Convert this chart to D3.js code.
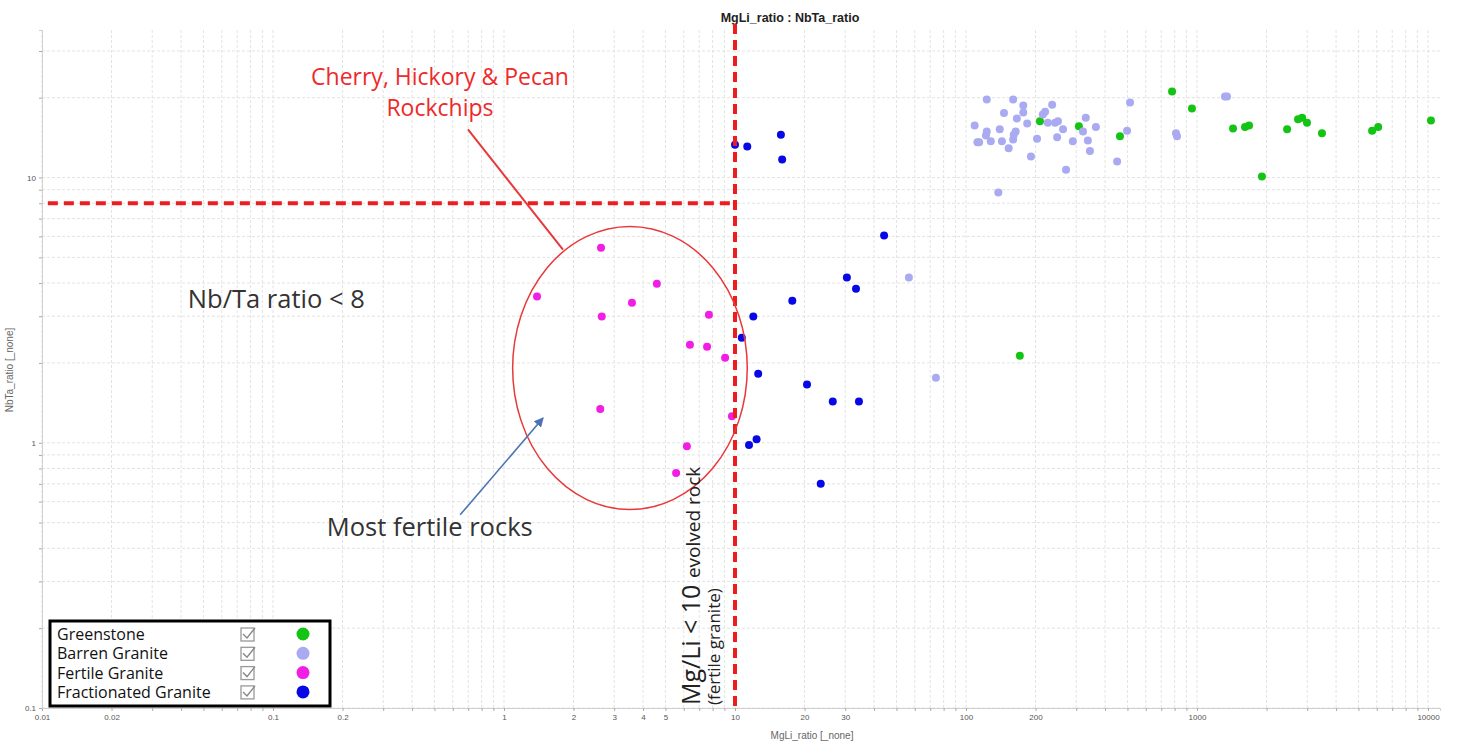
<!DOCTYPE html>
<html>
<head>
<meta charset="utf-8">
<script src="https://cdn.jsdelivr.net/npm/d3@7"></script>
<style>
  body { margin: 0; background: #fff; }
  svg { display: block; }
</style>
</head>
<body>
<div id="chart"></div>
<script>
// Values (MgLi_ratio, NbTa_ratio)
const greenstone = [
  [209, 16.3], [308, 15.6], [464, 14.3], [780, 21.1], [951, 18.2], [1432, 15.3],
  [1614, 15.5], [1680, 15.7], [2455, 15.2], [2737, 16.6], [2851, 16.8], [2993, 16.1],
  [3475, 14.7], [5728, 15.0], [6085, 15.5], [10300, 16.4], [1910, 10.1], [171, 2.13]
];
const barrenGranite = [
  [56.6, 4.2], [74.1, 1.76], [123, 19.7], [160, 19.7], [177, 18.7], [236, 18.8],
  [177, 17.6], [146, 17.5], [220, 17.7], [215, 17.3], [166, 16.7], [184, 16.0],
  [226, 16.1], [243, 16.1], [250, 16.3], [109, 15.7], [123, 14.9], [140, 15.2],
  [164, 14.9], [161, 14.5], [122, 14.4], [112, 13.6], [114, 13.6], [128, 13.7],
  [143, 13.7], [160, 13.9], [153, 12.9], [203, 14.0], [248, 14.2], [263, 15.2],
  [330, 16.8], [365, 15.5], [321, 14.9], [337, 13.8], [290, 13.7], [344, 12.6],
  [191, 12.0], [271, 10.7], [451, 11.5], [498, 15.0], [513, 19.2], [1349, 20.2],
  [1321, 20.2], [811, 14.7], [819, 14.3], [138, 8.78]
];
const fertileGranite = [
  [2.63, 5.44], [1.39, 3.56], [2.65, 2.99], [3.58, 3.37], [4.59, 3.98], [7.71, 3.04],
  [6.38, 2.34], [7.57, 2.30], [9.06, 2.09], [2.61, 1.34], [9.70, 1.26], [6.19, 0.97],
  [5.56, 0.77]
];
const fractionatedGranite = [
  [10.0, 13.3], [11.3, 13.1], [15.8, 14.5], [16.0, 11.7], [44.2, 6.04], [30.5, 4.2],
  [33.4, 3.81], [17.7, 3.43], [12.0, 2.99], [10.7, 2.49], [12.6, 1.82], [20.5, 1.66],
  [26.5, 1.43], [34.4, 1.43], [11.5, 0.98], [12.4, 1.03], [23.5, 0.70]
];

const seriesNames = ["Greenstone", "Barren Granite", "Fertile Granite", "Fractionated Granite"];
const seriesColors = ["#14c414", "#aaaaf2", "#f21ee6", "#0808e6"];
const seriesData = [greenstone, barrenGranite, fertileGranite, fractionatedGranite];

const xTickLabels = [0.01, 0.02, 0.1, 0.2, 1, 2, 3, 4, 5, 10, 20, 30, 100, 200, 1000, 10000];
const yTickLabels = [0.1, 1, 10];

const mgLiLimit = 10;
const nbTaLimit = 8;

const W = 1457, H = 744;
const margin = {top: 30, right: 17, bottom: 36, left: 42};

const svg = d3.select("#chart").append("svg")
  .attr("width", W).attr("height", H);

const x = d3.scaleLog().domain([0.01, 11270]).range([margin.left, W - margin.right]);
const y = d3.scaleLog().domain([0.1, 36]).range([H - margin.bottom, margin.top]);

// grid
const grid = svg.append("g");
grid.selectAll(".vg").data(x.ticks()).join("line")
  .attr("x1", d => x(d)).attr("x2", d => x(d))
  .attr("y1", y.range()[1]).attr("y2", y.range()[0])
  .attr("stroke", "#e3e3e3").attr("stroke-dasharray", "3,2");
grid.selectAll(".hg").data(y.ticks()).join("line")
  .attr("x1", x.range()[0]).attr("x2", x.range()[1])
  .attr("y1", d => y(d)).attr("y2", d => y(d))
  .attr("stroke", "#e3e3e3").attr("stroke-dasharray", "3,2");

// axes (small ticks, sparse labels)
const xAxis = svg.append("g")
  .attr("transform", `translate(0,${y.range()[0]})`)
  .call(d3.axisBottom(x).tickSize(3)
    .tickFormat(d => xTickLabels.includes(+d.toPrecision(6)) ? d3.format("~g")(d) : ""));
const yAxis = svg.append("g")
  .attr("transform", `translate(${x.range()[0]},0)`)
  .call(d3.axisLeft(y).tickSize(3)
    .tickFormat(d => yTickLabels.includes(+d.toPrecision(6)) ? d3.format("~g")(d) : ""));
[xAxis, yAxis].forEach(a => {
  a.select(".domain").attr("stroke", "#d0d0d0");
  a.selectAll(".tick line").attr("stroke", "#aaa");
  a.selectAll(".tick text").attr("fill", "#555").style("font", "8px 'Liberation Sans', Arial");
});

// title and axis names
svg.append("text")
  .attr("x", 790).attr("y", 22).attr("text-anchor", "middle")
  .style("font", "bold 12.5px 'Liberation Sans', Arial").attr("fill", "#222")
  .text("MgLi_ratio : NbTa_ratio");
svg.append("text")
  .attr("x", 812).attr("y", 739).attr("text-anchor", "middle")
  .style("font", "10px 'Liberation Sans', Arial").attr("fill", "#666")
  .text("MgLi_ratio [_none]");
svg.append("text")
  .attr("transform", "translate(13,370) rotate(-90)").attr("text-anchor", "middle")
  .style("font", "10px 'Liberation Sans', Arial").attr("fill", "#666")
  .text("NbTa_ratio [_none]");

// data points
seriesData.forEach((data, i) => {
  svg.append("g").selectAll("circle").data(data).join("circle")
    .attr("cx", d => x(d[0])).attr("cy", d => y(d[1]))
    .attr("r", 4).attr("fill", seriesColors[i]);
});

// threshold lines
const red = "#ee1c1c";
svg.append("line")
  .attr("x1", x(mgLiLimit)).attr("x2", x(mgLiLimit))
  .attr("y1", y.range()[1] - 6).attr("y2", y.range()[0] + 2)
  .attr("stroke", red).attr("stroke-width", 4).attr("stroke-dasharray", "10,6");
svg.append("line")
  .attr("x1", x(0.0106)).attr("x2", x(mgLiLimit))
  .attr("y1", y(nbTaLimit)).attr("y2", y(nbTaLimit))
  .attr("stroke", red).attr("stroke-width", 4).attr("stroke-dasharray", "10,6");

// annotation ellipse (bounds in data units)
const ex0 = x(1.09), ex1 = x(11.3), ey0 = y(6.54), ey1 = y(0.56);
svg.append("ellipse")
  .attr("cx", (ex0 + ex1) / 2).attr("cy", (ey0 + ey1) / 2)
  .attr("rx", (ex1 - ex0) / 2).attr("ry", (ey1 - ey0) / 2)
  .attr("fill", "none").attr("stroke", "#e8383a").attr("stroke-width", 1.5);

svg.append("line")
  .attr("x1", x(0.698)).attr("y1", y(15.2)).attr("x2", x(1.80)).attr("y2", y(5.35))
  .attr("stroke", "#e8383a").attr("stroke-width", 2);

const annFont = "'Open Sans', 'Noto Sans', sans-serif";
svg.append("text")
  .attr("x", x(0.528)).attr("y", y(22.4)).attr("text-anchor", "middle")
  .style("font", `23px ${annFont}`).attr("fill", "#ee2a2a")
  .text("Cherry, Hickory & Pecan");
svg.append("text")
  .attr("x", x(0.528)).attr("y", y(17.0)).attr("text-anchor", "middle")
  .style("font", `23px ${annFont}`).attr("fill", "#ee2a2a")
  .text("Rockchips");

svg.append("text")
  .attr("x", x(0.0428)).attr("y", y(3.23))
  .style("font", `25.5px ${annFont}`).attr("fill", "#333")
  .text("Nb/Ta ratio < 8");
svg.append("text")
  .attr("x", x(0.171)).attr("y", y(0.446))
  .style("font", `25.5px ${annFont}`).attr("fill", "#333")
  .text("Most fertile rocks");

// blue arrow
svg.append("defs").append("marker")
  .attr("id", "arr").attr("viewBox", "0 0 10 10").attr("refX", 9).attr("refY", 5)
  .attr("markerWidth", 6).attr("markerHeight", 6).attr("orient", "auto")
  .append("path").attr("d", "M0,0L10,5L0,10z").attr("fill", "#4a72b4");
svg.append("line")
  .attr("x1", x(0.646)).attr("y1", y(0.535)).attr("x2", x(1.476)).attr("y2", y(1.24))
  .attr("stroke", "#4a72b4").attr("stroke-width", 1.6).attr("marker-end", "url(#arr)");

// rotated labels along the Mg/Li line
const rot = svg.append("text")
  .attr("transform", `translate(${x(7.05)},${y(0.1026)}) rotate(-90)`)
  .attr("fill", "#222").style("font-family", annFont);
rot.append("tspan").style("font-size", "25px").text("Mg/Li < 10 ");
rot.append("tspan").style("font-size", "19px").text("evolved rock");
svg.append("text")
  .attr("transform", `translate(${x(8.61)},${y(0.1026)}) rotate(-90)`)
  .attr("fill", "#222").style("font", `17px ${annFont}`)
  .text("(fertile granite)");

// legend
const lg = svg.append("g").attr("transform", "translate(50,621)");
lg.append("rect").attr("width", 280).attr("height", 85)
  .attr("fill", "#fff").attr("stroke", "#000").attr("stroke-width", 3);
seriesNames.forEach((name, i) => {
  const row = lg.append("g").attr("transform", `translate(0,${13 + i * 19.3})`);
  row.append("text").attr("x", 7).attr("y", 6)
    .style("font", `16px ${annFont}`).attr("fill", "#111").text(name);
  row.append("rect").attr("x", 191).attr("y", -6).attr("width", 13).attr("height", 13)
    .attr("fill", "#fff").attr("stroke", "#999").attr("stroke-width", 1.3);
  row.append("path").attr("d", "M193,0 L197,4 L205,-6")
    .attr("fill", "none").attr("stroke", "#888").attr("stroke-width", 1.4);
  row.append("circle").attr("cx", 253).attr("cy", 0).attr("r", 6.5)
    .attr("fill", seriesColors[i]);
});
</script>
</body>
</html>
